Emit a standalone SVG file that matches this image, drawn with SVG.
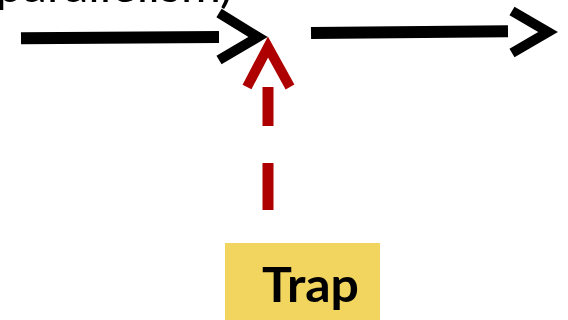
<svg xmlns="http://www.w3.org/2000/svg" width="568" height="320" viewBox="0 0 568 320">
  <style>
    .flow { fill: none; stroke: #000; stroke-width: 12; }
    .head { fill: none; stroke: #000; stroke-width: 10; stroke-linejoin: miter; stroke-miterlimit: 10; }
    .trap-line { fill: none; stroke: #AE0000; stroke-width: 11; }
    .trap-head { fill: none; stroke: #AE0000; stroke-width: 10; stroke-linejoin: miter; stroke-miterlimit: 10; }
    .label { font-family: "Lato", "Liberation Sans", sans-serif; fill: #000; }
  </style>

  <!-- caption running off the top edge -->
  <g id="caption">
    <text class="label" x="-17" y="2" font-size="48" textLength="250" lengthAdjust="spacingAndGlyphs">(parallelism)</text>
  </g>

  <!-- trap box -->
  <g id="trap">
    <rect x="225" y="243" width="155" height="80" fill="#F2D55F"/>
    <text class="label" x="262" y="302" font-size="48" font-weight="bold" textLength="97" lengthAdjust="spacingAndGlyphs">Trap</text>
  </g>

  <g id="connectors">
    <!-- incoming flow -->
    <line class="flow" x1="21" y1="38.3" x2="219" y2="37"/>
    <polyline class="head" points="219,13 258,37 219,60"/>
    <!-- outgoing flow -->
    <line class="flow" x1="311" y1="33" x2="508" y2="31.2"/>
    <polyline class="head" points="512,11 548,32 512,53"/>
    <!-- dashed trap link -->
    <path class="trap-line" d="M268 87V126M268 163V210"/>
    <polyline class="trap-head" points="247,87 268,47 290,87"/>
  </g>
</svg>
